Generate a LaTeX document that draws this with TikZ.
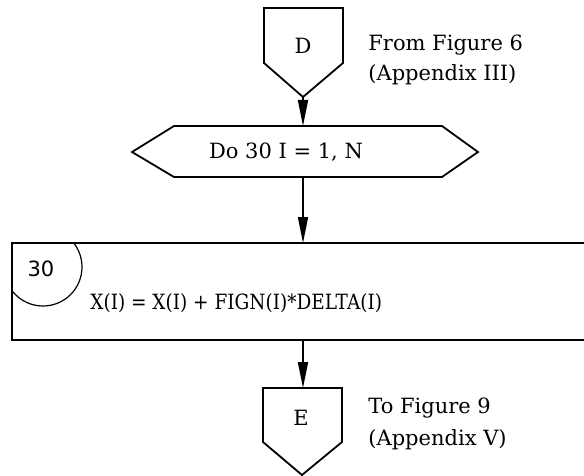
\documentclass[tikz,border=0pt]{standalone}
\usepackage{fontspec}
\setmainfont{DejaVu Serif}
\setsansfont{DejaVu Sans}
\usetikzlibrary{arrows.meta,positioning}

\begin{document}
\begin{tikzpicture}[x=0.5pt,y=-0.5pt,
    font=\fontsize{10.5}{12}\selectfont,
    outline/.style={line width=0.9pt,line join=miter},
    link/.style={line width=0.9pt,-{Triangle[length=13pt,width=5pt]}},
    note/.style={anchor=west,inner sep=0pt}]
\useasboundingbox (0,0) rectangle (584,476);

% Off-page connector D (top)
\draw[outline] (264,8) -- (343,8) -- (343,63) -- (303,97) -- (264,63) -- cycle;
\node (D) at (303,46) {D};
\coordinate (Dtip) at (303,97);
\node[note] (fromfig) at (368,45) {From Figure 6};
\node[note] (fromapp) at (368,75) {(Appendix III)};

% Do loop (hexagon)
\draw[outline] (132,152) -- (174,126) -- (442,126) -- (478,152)
    -- (442,177) -- (174,177) -- cycle;
\node (doloop) at (286,152) {Do 30 I = 1, N};
\coordinate (dotop) at (303,126);
\coordinate (dobot) at (303,177);

% Process box 30 (runs off the right edge)
\draw[outline] (584,243) -- (12,243) -- (12,340) -- (584,340);
\begin{scope}
    \clip (12,243) rectangle (584,340);
    \draw[line width=0.6pt] (43,267) circle (39);
\end{scope}
\node[font=\sffamily\fontsize{10.5}{12}\selectfont] (label) at (41,269) {30};
\node[note] (calc) at (90,303) {\scalebox{0.88}[1]{X(I) = X(I) + FIGN(I)*DELTA(I)}};
\coordinate (boxtop) at (303,243);
\coordinate (boxbot) at (303,340);

% Off-page connector E (bottom)
\draw[outline] (263,388) -- (342,388) -- (342,442) -- (302,475) -- (263,442) -- cycle;
\node (E) at (301,418) {E};
\coordinate (Etop) at (303,388);
\node[note] (tofig) at (368,408) {To Figure 9};
\node[note] (toapp) at (368,440) {(Appendix V)};

% Flow lines
\draw[link] (Dtip) -- (dotop);
\draw[link] (dobot) -- (boxtop);
\draw[link] (boxbot) -- (Etop);
\end{tikzpicture}
\end{document}
